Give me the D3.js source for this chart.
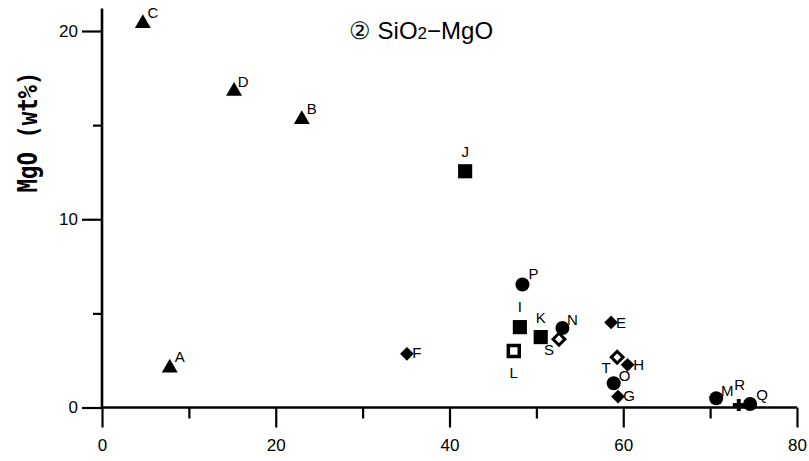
<!DOCTYPE html>
<html><head><meta charset="utf-8">
<script src="https://cdn.jsdelivr.net/npm/d3@7/dist/d3.min.js"></script>
<style>
body{margin:0;background:#fff;}
svg{display:block;}
.tick text{font-family:"Liberation Sans",Arial,sans-serif;}
</style>
</head><body>
<div id="chart"></div>
<script>
// ---- data ----
const labels = ["A","B","C","D","E","F","G","H","I","J","K","L","M","N","O","P","Q","R","S","T"];
const sio2 = [7.8, 23.0, 4.7, 15.2, 58.6, 35.1, 59.4, 60.5, 48.1, 41.8, 50.5, 47.4, 70.7, 53.0, 58.9, 48.4, 74.6, 73.3, 52.6, 59.3];
const mgo  = [2.1, 15.3, 20.4, 16.8, 4.52, 2.85, 0.58, 2.27, 4.27, 12.55, 3.74, 3.0, 0.49, 4.22, 1.29, 6.53, 0.19, 0.13, 3.63, 2.67];
const groups = ["tri","tri","tri","tri","dia","dia","dia","dia","sq","sq","sq","osq","circ","circ","circ","circ","circ","cross","odia","odia"];
const xTicks = [0, 20, 40, 60, 80];
const xMinor = [10, 30, 50, 70];
const yTicks = [0, 10, 20];
const yMinor = [5, 15];

// ---- layout ----
const W = 809, H = 461;
const x0 = 102, x1 = 797, y0 = 407.5;
const x = d3.scaleLinear().domain([0, 80]).range([x0, x1]);
const y = d3.scaleLinear().domain([0, 20]).range([y0, 31]);
const yTop = 21.2;

const svg = d3.select("#chart").append("svg").attr("width", W).attr("height", H);

// axes
const yAxisG = svg.append("g").attr("transform", `translate(${x0},0)`);
yAxisG.call(d3.axisLeft(y).tickValues(yTicks).tickSize(20).tickSizeOuter(0).tickPadding(4));
const yMinorG = svg.append("g").attr("transform", `translate(${x0},0)`);
yMinorG.call(d3.axisLeft(y).tickValues(yMinor).tickSize(9).tickFormat(""));
yMinorG.select(".domain").remove();
yAxisG.select(".domain").remove();

const xAxisG = svg.append("g").attr("transform", `translate(0,${y0})`);
xAxisG.call(d3.axisBottom(x).tickValues(xTicks).tickSize(20).tickSizeOuter(0).tickPadding(11));
const xMinorG = svg.append("g").attr("transform", `translate(0,${y0})`);
xMinorG.call(d3.axisBottom(x).tickValues(xMinor).tickSize(11).tickFormat(""));
xMinorG.select(".domain").remove();
xAxisG.select(".domain").remove();

[yAxisG, yMinorG, xAxisG, xMinorG].forEach(g => {
  g.selectAll(".tick line").attr("stroke", "#000").attr("stroke-width", 2.2);
  g.selectAll(".tick text").attr("font-size", 17).attr("fill", "#000");
});
// axis lines
svg.append("line").attr("x1", x0).attr("x2", x0).attr("y1", y(yTop)).attr("y2", y0)
  .attr("stroke", "#000").attr("stroke-width", 2.6);
svg.append("line").attr("x1", x0).attr("x2", x1).attr("y1", y0).attr("y2", y0)
  .attr("stroke", "#000").attr("stroke-width", 2.6);

// y axis title
svg.append("text")
  .attr("transform", "translate(37,132) rotate(-90)")
  .attr("text-anchor", "middle")
  .attr("font-family", "'DejaVu Sans Mono','Liberation Mono',monospace")
  .attr("font-weight", "bold")
  .attr("font-size", 27)
  .attr("textLength", 121)
  .attr("lengthAdjust", "spacingAndGlyphs")
  .attr("fill", "#000")
  .text("MgO (wt%)");

// title
const t = svg.append("text").attr("x", 421).attr("y", 39).attr("text-anchor", "middle")
  .attr("font-family", "'Liberation Sans',Arial,sans-serif").attr("font-size", 24).attr("fill", "#000");
t.append("tspan").text("② SiO");
t.append("tspan").attr("font-size", 17).text("2");
t.append("tspan").text("−MgO");

// markers
const shapes = {
  tri:  {type: d3.symbolTriangle, size: 110, rot: 0, fill: "#000"},
  dia:  {type: d3.symbolSquare, size: 95, rot: 45, fill: "#000"},
  sq:   {type: d3.symbolSquare, size: 200, rot: 0, fill: "#000"},
  osq:  {type: d3.symbolSquare, size: 120, rot: 0, fill: "#fff", stroke: 3.5},
  circ: {type: d3.symbolCircle, size: 155, rot: 0, fill: "#000"},
  cross:{type: d3.symbolCross, size: 80, rot: 0, fill: "#000"},
  odia: {type: d3.symbolSquare, size: 70, rot: 45, fill: "#fff", stroke: 3}
};
const pts = labels.map((l, i) => ({label: l, sx: sio2[i], my: mgo[i], g: groups[i]}));

svg.append("g").selectAll("path").data(pts).join("path")
  .attr("transform", d => `translate(${x(d.sx)},${y(d.my)}) rotate(${shapes[d.g].rot})`)
  .attr("d", d => d3.symbol().type(shapes[d.g].type).size(shapes[d.g].size)())
  .attr("fill", d => shapes[d.g].fill)
  .attr("stroke", d => shapes[d.g].stroke ? "#000" : "none")
  .attr("stroke-width", d => shapes[d.g].stroke || 0);

// label offsets (layout only)
const off = {
  A:[10,-11], B:[10,-11], C:[10,-11], D:[9,-10], E:[10,0], F:[10,-1], G:[11,-1], H:[11,0],
  I:[0,-21], J:[0,-20], K:[0,-20], L:[0,21], M:[11,-8], N:[10,-9], O:[11,-8], P:[11,-11],
  Q:[12,-9], R:[1,-21], S:[-10,10], T:[-11,10]
};
svg.append("g").selectAll("text").data(pts).join("text")
  .attr("x", d => x(d.sx) + off[d.label][0])
  .attr("y", d => y(d.my) + off[d.label][1])
  .attr("text-anchor", "middle")
  .attr("dominant-baseline", "central")
  .attr("font-family", "'Liberation Sans',Arial,sans-serif")
  .attr("font-size", 15)
  .attr("fill", "#000")
  .text(d => d.label);
</script>
</body></html>
